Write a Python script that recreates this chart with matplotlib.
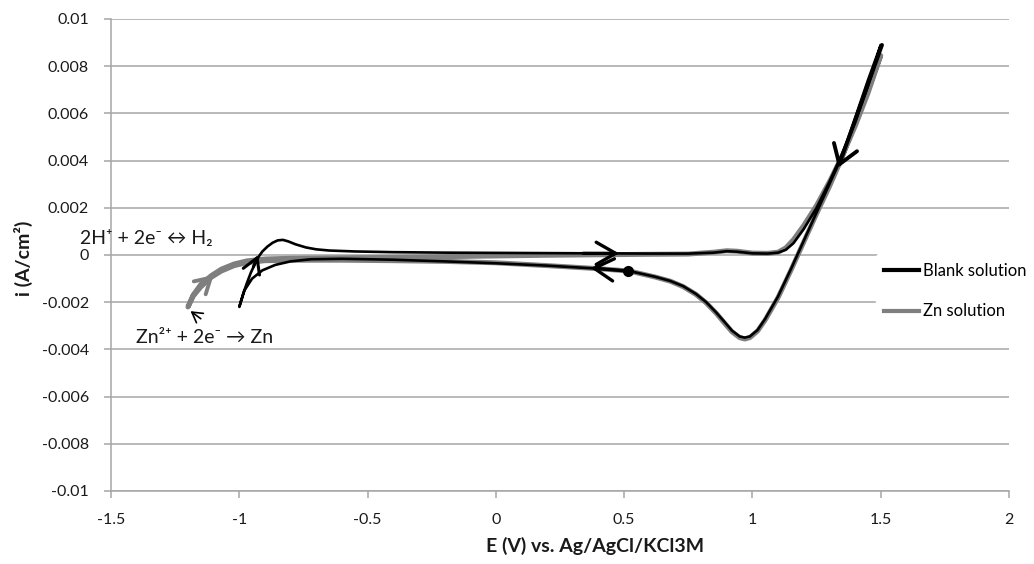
import matplotlib
matplotlib.use("Agg")
import matplotlib.pyplot as plt
from matplotlib.lines import Line2D

# ── Données ───────────────────────────────────────────────────────────────────
# Balayage : départ à 0.52 V vers les potentiels négatifs, retour jusqu'à 1.5 V,
# puis retour vers 0.52 V.
blank_e = [0.52, 0.40, 0.20, 0.00, -0.20, -0.40, -0.60, -0.72, -0.80, -0.86, -0.91, -0.95, -0.98, -1.00,
           -0.985, -0.97, -0.955, -0.94, -0.925, -0.91, -0.89, -0.87, -0.85, -0.83, -0.81, -0.78, -0.74,
           -0.70, -0.65, -0.55, -0.40, -0.20, 0.00, 0.20, 0.40, 0.60, 0.75, 0.85, 0.90, 0.94, 1.00, 1.06,
           1.10, 1.13, 1.16, 1.20, 1.25, 1.30, 1.35, 1.40, 1.45, 1.50,
           1.45, 1.40, 1.35, 1.30, 1.25, 1.20, 1.15, 1.10, 1.05, 1.02, 0.99, 0.97, 0.95, 0.92, 0.89,
           0.86, 0.82, 0.78, 0.73, 0.68, 0.62, 0.52]
blank_i = [-0.00068, -0.00058, -0.00045, -0.00035, -0.00027, -0.00020, -0.00016, -0.00018, -0.00027,
           -0.00042, -0.00065, -0.00100, -0.00150, -0.00220,
           -0.00165, -0.00118, -0.00075, -0.00040, -0.00008, 0.00015, 0.00036, 0.00052, 0.00062, 0.00064,
           0.00058, 0.00045, 0.00032, 0.00024, 0.00019, 0.00015, 0.00012, 0.00010, 0.00009, 0.00008,
           0.00007, 0.00006, 0.00006, 0.00010, 0.00016, 0.00014, 0.00007, 0.00006, 0.00010, 0.00022,
           0.00050, 0.00110, 0.00200, 0.00310, 0.00430, 0.00560, 0.00715, 0.00890,
           0.00740, 0.00580, 0.00420, 0.00300, 0.00180, 0.00060, -0.00060, -0.00175, -0.00270,
           -0.00318, -0.00345, -0.00350, -0.00345, -0.00320, -0.00282, -0.00245, -0.00200, -0.00165,
           -0.00132, -0.00110, -0.00092, -0.00068]

zn_e = [0.52, 0.40, 0.20, 0.00, -0.20, -0.40, -0.60, -0.80, -0.90, -0.97, -1.02, -1.07, -1.11, -1.15,
        -1.18, -1.20,
        -1.18, -1.15, -1.11, -1.07, -1.02, -0.97, -0.90, -0.80, -0.60, -0.40, -0.20, 0.00, 0.20, 0.40,
        0.60, 0.75, 0.85, 0.90, 0.94, 1.00, 1.06, 1.10, 1.13, 1.16, 1.20, 1.25, 1.30, 1.35, 1.40, 1.45,
        1.50,
        1.45, 1.40, 1.35, 1.30, 1.25, 1.20, 1.15, 1.10, 1.05, 1.02, 0.99, 0.97, 0.95, 0.92, 0.89,
        0.86, 0.82, 0.78, 0.73, 0.68, 0.62, 0.52]
zn_i = [-0.00068, -0.00058, -0.00045, -0.00033, -0.00027, -0.00024, -0.00022, -0.00022, -0.00024,
        -0.00032, -0.00045, -0.00068, -0.00095, -0.00135, -0.00175, -0.00220,
        -0.00170, -0.00125, -0.00088, -0.00060, -0.00038, -0.00025, -0.00017, -0.00014, -0.00012,
        -0.00010, -0.00007, -0.00004, -0.00001, 0.00001, 0.00003, 0.00004, 0.00012, 0.00018, 0.00016,
        0.00008, 0.00007, 0.00012, 0.00030, 0.00065, 0.00125, 0.00210, 0.00310, 0.00420, 0.00545,
        0.00685, 0.00845,
        0.00700, 0.00560, 0.00415, 0.00290, 0.00175, 0.00055, -0.00065, -0.00180, -0.00275,
        -0.00322, -0.00350, -0.00356, -0.00350, -0.00325, -0.00287, -0.00248, -0.00203, -0.00167,
        -0.00134, -0.00111, -0.00093, -0.00068]

start_point = (0.515, -0.00068)

x_ticks = [-1.5, -1, -0.5, 0, 0.5, 1, 1.5, 2]
x_tick_labels = ["-1.5", "-1", "-0.5", "0", "0.5", "1", "1.5", "2"]
y_ticks = [-0.01, -0.008, -0.006, -0.004, -0.002, 0, 0.002, 0.004, 0.006, 0.008, 0.01]
y_tick_labels = ["-0.01", "-0.008", "-0.006", "-0.004", "-0.002", "0",
                 "0.002", "0.004", "0.006", "0.008", "0.01"]

# ── Style ─────────────────────────────────────────────────────────────────────
plt.rcParams["font.family"] = ["Lato", "DejaVu Sans"]
plt.rcParams["mathtext.default"] = "regular"
GRID = "#a6a6a6"
GRAY = "#7f7f7f"
TXT = "#1a1a1a"

fig = plt.figure(figsize=(10.34, 5.64), dpi=100)
fig.patch.set_facecolor("white")
ax = fig.add_axes([111 / 1034, 1 - 491 / 564, 898 / 1034, 472 / 564])

ax.set_xlim(-1.5, 2)
ax.set_ylim(-0.01, 0.01)
ax.set_xticks(x_ticks)
ax.set_xticklabels(x_tick_labels)
ax.set_yticks(y_ticks)
ax.set_yticklabels(y_tick_labels)
ax.grid(axis="y", color=GRID, lw=1.1)
ax.set_axisbelow(True)
for side in ("top", "right"):
    ax.spines[side].set_visible(False)
for side in ("left", "bottom"):
    ax.spines[side].set_color(GRID)
    ax.spines[side].set_linewidth(1.1)
ax.tick_params(axis="both", colors=GRID, length=5, width=1.1, labelcolor=TXT, labelsize=11.5)
ax.tick_params(axis="x", pad=11)
ax.tick_params(axis="y", pad=11)

ax.plot(zn_e, zn_i, color=GRAY, lw=3.6, solid_capstyle="round", solid_joinstyle="round", zorder=3)
ax.plot(blank_e, blank_i, color="black", lw=1.9, solid_capstyle="round", solid_joinstyle="round", zorder=4)
ax.plot(*start_point, "o", color="black", ms=7, zorder=5)

# ── Flèches de sens de balayage ───────────────────────────────────────────────
def fleche(xy, xytext, color="black", lw=2.2, hl=0.6, hw=0.35, ms=18):
    ax.annotate("", xy=xy, xytext=xytext, zorder=6,
                arrowprops=dict(arrowstyle=f"->, head_length={hl}, head_width={hw}",
                                color=color, lw=lw, mutation_scale=ms,
                                shrinkA=0, shrinkB=0))

fleche((0.48, 0.00007), (0.34, 0.00007), lw=2.4, hl=0.7, hw=0.4, ms=20)
fleche((0.37, -0.00055), (0.515, -0.00068), lw=2.4, hl=0.7, hw=0.4, ms=20)
fleche((-0.926, 0.0), (-0.945, -0.0005), lw=2.2, hl=0.6, hw=0.35, ms=18)
fleche((-1.10, -0.00085), (-1.16, -0.00145), color=GRAY, lw=2.8, hl=0.6, hw=0.35, ms=18)
fleche((1.334, 0.0037), (1.505, 0.0089), lw=2.8, hl=0.6, hw=0.4, ms=22)
fleche((-1.19, -0.00238), (-1.15, -0.0027), lw=1.2, hl=0.6, hw=0.35, ms=12)

ax.text(-1.622, 0.00072, "2H⁺ + 2e⁻ ↔ H₂", fontsize=14, color=TXT,
        ha="left", va="center", zorder=6, clip_on=False)
ax.text(-1.403, -0.0035, "Zn²⁺ + 2e⁻ → Zn", fontsize=14, color=TXT,
        ha="left", va="center", zorder=6)

ax.set_xlabel("E (V) vs. Ag/AgCl/KCl3M", fontsize=14, fontweight="bold", color=TXT)
ax.set_ylabel("i (A/cm²)", fontsize=14, fontweight="bold", color=TXT)
ax.xaxis.set_label_coords(0.539, -0.097)
ax.yaxis.set_label_coords(-0.087, 0.494)

handles = [Line2D([], [], color="black", lw=3), Line2D([], [], color=GRAY, lw=3)]
leg = ax.legend(handles, ["Blank solution", "Zn solution"], loc="center left",
                bbox_to_anchor=(876 / 1034, 1 - 291 / 564), bbox_transform=fig.transFigure,
                frameon=True, fontsize=12, handlelength=2.1, handletextpad=0.2,
                labelspacing=1.5, borderpad=0.5, borderaxespad=0)
leg.get_frame().set_facecolor("white")
leg.get_frame().set_edgecolor("white")
leg.get_frame().set_alpha(1)
leg.set_zorder(7)

fig.savefig("out.png", dpi=100)
